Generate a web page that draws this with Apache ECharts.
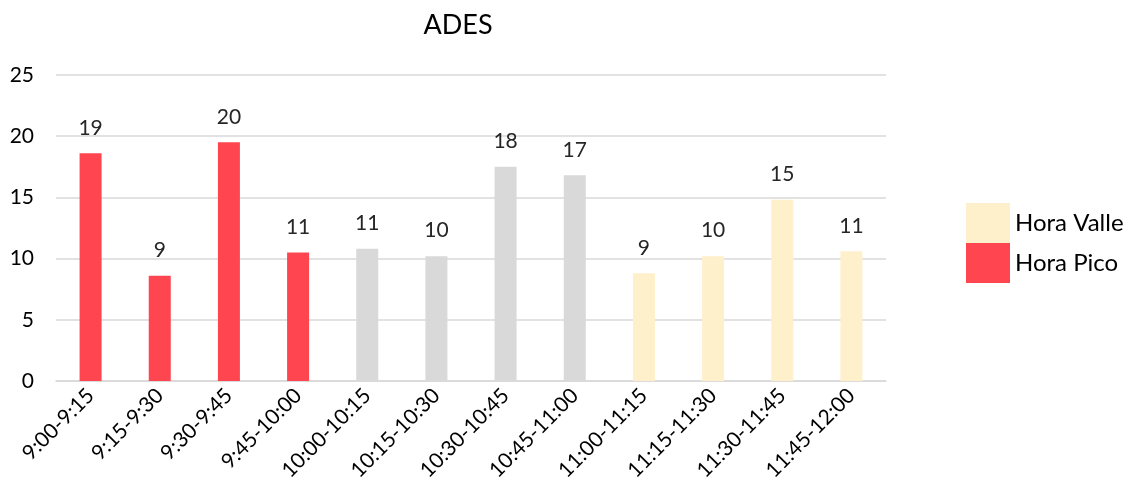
<!DOCTYPE html>
<html>
<head>
<meta charset="utf-8">
<script src="https://cdn.jsdelivr.net/npm/echarts@6/dist/echarts.min.js"></script>
<style>
  html, body { margin: 0; padding: 0; background: #fff; }
  #chart { width: 1133px; height: 499px; }
</style>
</head>
<body>
<div id="chart"></div>
<script>
const categories = ['9:00-9:15', '9:15-9:30', '9:30-9:45', '9:45-10:00', '10:00-10:15', '10:15-10:30',
  '10:30-10:45', '10:45-11:00', '11:00-11:15', '11:15-11:30', '11:30-11:45', '11:45-12:00']
const horaPico = [18.6, 8.6, 19.5, 10.5, '-', '-', '-', '-', '-', '-', '-', '-']
const horaMedia = ['-', '-', '-', '-', 10.8, 10.2, 17.5, 16.8, '-', '-', '-', '-']
const horaValle = ['-', '-', '-', '-', '-', '-', '-', '-', 8.8, 10.2, 14.8, 10.6]

const font = "Lato, sans-serif"

const chart = echarts.init(document.getElementById('chart'))

const label = {
  show: true,
  position: 'top',
  distance: 15,
  color: '#262626',
  fontFamily: font,
  fontSize: 21,
  formatter: p => Math.round(p.value)
}

const option = {
  animation: false,
  title: {
    text: 'ADES',
    left: 453,
    top: 7,
    textAlign: 'center',
    textStyle: { fontFamily: font, fontSize: 27, fontWeight: 'normal', color: '#000' }
  },
  legend: {
    data: ['Hora Valle', 'Hora Pico'],
    orient: 'vertical',
    left: 961,
    top: 198,
    itemWidth: 44,
    itemHeight: 40,
    itemGap: 0,
    icon: 'rect',
    textStyle: { fontFamily: font, fontSize: 24, color: '#000', padding: [0, 0, 0, 0] }
  },
  grid: { left: 56, right: 247, top: 75, bottom: 118 },
  xAxis: {
    type: 'category',
    data: categories,
    axisTick: { show: false },
    axisLine: { lineStyle: { color: '#d9d9d9', width: 1.5 } },
    axisLabel: {
      rotate: 45,
      interval: 0,
      margin: 11,
      color: '#000',
      fontFamily: font,
      fontSize: 21
    }
  },
  yAxis: {
    type: 'value',
    min: 0,
    max: 25,
    interval: 5,
    axisLine: { show: false },
    axisTick: { show: false },
    splitLine: { lineStyle: { color: '#d9d9d9', width: 1.5 } },
    axisLabel: { margin: 22, color: '#000', fontFamily: font, fontSize: 21 }
  },
  series: [
    { name: 'Hora Pico', type: 'bar', stack: 'a', barWidth: 22, data: horaPico,
      itemStyle: { color: '#ff4650' }, label: label },
    { name: 'Hora Media', type: 'bar', stack: 'a', barWidth: 22, data: horaMedia,
      itemStyle: { color: '#d9d9d9' }, label: label },
    { name: 'Hora Valle', type: 'bar', stack: 'a', barWidth: 22, data: horaValle,
      itemStyle: { color: '#fff0cc' }, label: label }
  ]
}

chart.setOption(option)
</script>
</body>
</html>
